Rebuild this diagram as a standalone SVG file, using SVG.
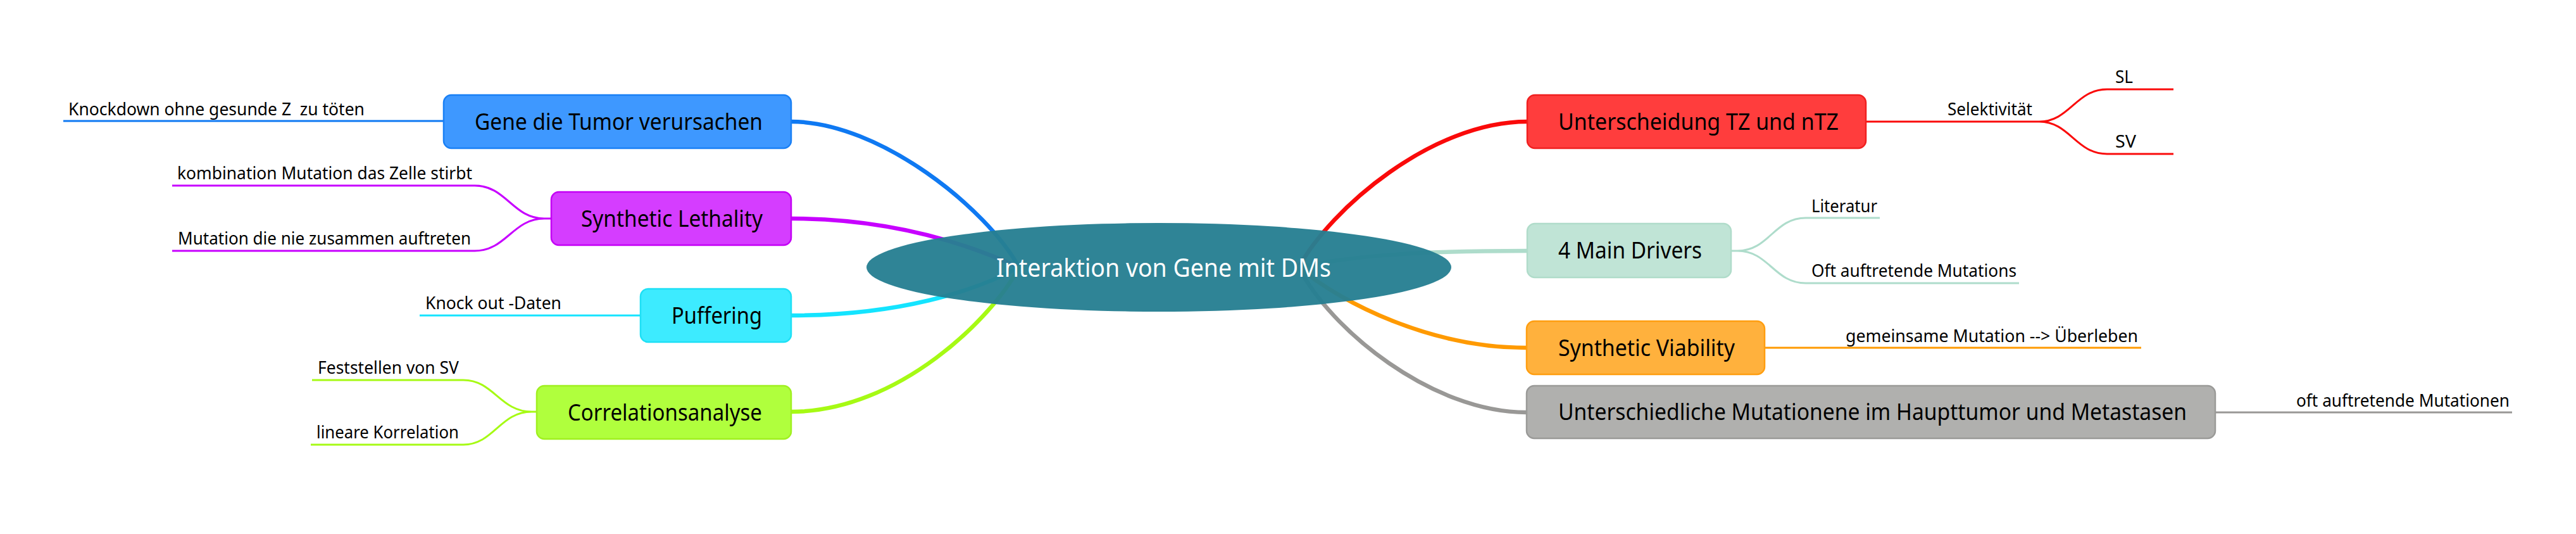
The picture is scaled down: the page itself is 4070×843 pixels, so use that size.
<svg xmlns="http://www.w3.org/2000/svg" width="4070" height="843" viewBox="0 0 4070 843">
<style>
text{font-family:"Noto Sans","Open Sans","Liberation Sans",sans-serif;fill:#000;white-space:pre}
.t{font-size:36px}
.c{font-size:27px}
.main{fill:none;stroke-width:6.5;stroke-linecap:round}
.sub{fill:none;stroke-width:3}
.box{stroke-width:2.5}
</style>
<rect width="4070" height="843" fill="#fff"/>
<g id="connectors">
<path class="main" stroke="#0F79F2" d="M1610,422 C1560,330 1390,192 1250,192"/>
<path class="main" stroke="#C700FF" d="M1610,422 C1540,390 1420,345 1250,345"/>
<path class="main" stroke="#14E4FF" d="M1610,422 C1540,460 1420,498 1250,498"/>
<path class="main" stroke="#A6FA14" d="M1610,422 C1570,500 1420,650 1250,650"/>
<path class="main" stroke="#FA0A0A" d="M2052,422 C2102,330 2262,192 2413,192"/>
<path class="main" stroke="#AEDCCB" d="M2052,422 C2150,400 2280,396 2413,396"/>
<path class="main" stroke="#FF9A00" d="M2052,422 C2122,480 2262,549 2412,549"/>
<path class="main" stroke="#999896" d="M2052,422 C2102,520 2262,651 2412,651"/>
<path class="sub" stroke="#0F79F2" d="M100,191 H701"/>
<path class="sub" stroke="#C700FF" d="M272,293 H750 C800,293 810,345 860,345 H871 M272,396 H750 C800,396 810,345 860,345"/>
<path class="sub" stroke="#14E4FF" d="M663,498 H1012"/>
<path class="sub" stroke="#A6FA14" d="M493,600 H732 C780,600 790,650 840,650 H848 M491,702 H732 C780,702 790,650 840,650"/>
<path class="sub" stroke="#FA0A0A" d="M2948,192 H3222 C3270,192 3280,141 3329,141 H3434 M3222,192 C3270,192 3280,243 3329,243 H3434"/>
<path class="sub" stroke="#AEDCCB" d="M2735,396 H2745 C2795,396 2803,344 2853,344 H2970 M2745,396 C2795,396 2803,447 2853,447 H3190"/>
<path class="sub" stroke="#FF9A00" d="M2788,549 H3383"/>
<path class="sub" stroke="#999896" d="M3500,651 H3969"/>
</g>
<g id="center">
<ellipse cx="1831" cy="422" rx="462" ry="70" fill="#277F92" fill-opacity="0.96"/>
<text x="1574" y="437" font-size="40" textLength="529" lengthAdjust="spacingAndGlyphs" style="fill:#fff">Interaktion von Gene mit DMs</text>
</g>
<g id="gene">
<rect class="box" x="701" y="150" width="549" height="84" rx="12" fill="#3E98FF" stroke="#1A80F5"/>
<text class="t" x="750" y="205" textLength="455" lengthAdjust="spacingAndGlyphs">Gene die Tumor verursachen</text>
<text class="c" x="108" y="182" textLength="468" lengthAdjust="spacingAndGlyphs" xml:space="preserve">Knockdown ohne gesunde Z  zu töten</text>
</g>
<g id="sl">
<rect class="box" x="871" y="303" width="379" height="84" rx="12" fill="#D53DFF" stroke="#C400F5"/>
<text class="t" x="918" y="358" textLength="287" lengthAdjust="spacingAndGlyphs">Synthetic Lethality</text>
<text class="c" x="280" y="283" textLength="466" lengthAdjust="spacingAndGlyphs">kombination Mutation das Zelle stirbt</text>
<text class="c" x="281" y="386" textLength="463" lengthAdjust="spacingAndGlyphs">Mutation die nie zusammen auftreten</text>
</g>
<g id="puffering">
<rect class="box" x="1012" y="456" width="238" height="84" rx="12" fill="#3DEBFF" stroke="#1EE0F5"/>
<text class="t" x="1061" y="511" textLength="143" lengthAdjust="spacingAndGlyphs">Puffering</text>
<text class="c" x="672" y="488" textLength="215" lengthAdjust="spacingAndGlyphs">Knock out -Daten</text>
</g>
<g id="corr">
<rect class="box" x="848" y="609" width="402" height="84" rx="12" fill="#B0FF3D" stroke="#A0F020"/>
<text class="t" x="897" y="664" textLength="307" lengthAdjust="spacingAndGlyphs">Correlationsanalyse</text>
<text class="c" x="502" y="590" textLength="223" lengthAdjust="spacingAndGlyphs">Feststellen von SV</text>
<text class="c" x="500" y="692" textLength="225" lengthAdjust="spacingAndGlyphs">lineare Korrelation</text>
</g>
<g id="tz">
<rect class="box" x="2413" y="150" width="535" height="84" rx="12" fill="#FF3D3D" stroke="#F02020"/>
<text class="t" x="2462" y="205" textLength="443" lengthAdjust="spacingAndGlyphs">Unterscheidung TZ und nTZ</text>
<text class="c" x="3077" y="182" textLength="134" lengthAdjust="spacingAndGlyphs">Selektivität</text>
<text class="c" x="3342" y="131" textLength="28" lengthAdjust="spacingAndGlyphs">SL</text>
<text class="c" x="3342" y="233" textLength="33" lengthAdjust="spacingAndGlyphs">SV</text>
</g>
<g id="drivers">
<rect class="box" x="2413" y="353" width="322" height="85" rx="12" fill="#C0E4D6" stroke="#B0DCCA"/>
<text class="t" x="2462" y="408" textLength="227" lengthAdjust="spacingAndGlyphs">4 Main Drivers</text>
<text class="c" x="2862" y="335" textLength="104" lengthAdjust="spacingAndGlyphs">Literatur</text>
<text class="c" x="2862" y="437" textLength="324" lengthAdjust="spacingAndGlyphs">Oft auftretende Mutations</text>
</g>
<g id="sv">
<rect class="box" x="2412" y="507" width="376" height="84" rx="12" fill="#FFB13D" stroke="#FF9E10"/>
<text class="t" x="2462" y="562" textLength="279" lengthAdjust="spacingAndGlyphs">Synthetic Viability</text>
<text class="c" x="2916" y="540" textLength="462" lengthAdjust="spacingAndGlyphs">gemeinsame Mutation --&gt; Überleben</text>
</g>
<g id="meta">
<rect class="box" x="2412" y="609" width="1088" height="83" rx="12" fill="#B0B0AE" stroke="#9A9A98"/>
<text class="t" x="2462" y="663" textLength="993" lengthAdjust="spacingAndGlyphs">Unterschiedliche Mutationene im Haupttumor und Metastasen</text>
<text class="c" x="3628" y="642" textLength="337" lengthAdjust="spacingAndGlyphs">oft auftretende Mutationen</text>
</g>
</svg>
